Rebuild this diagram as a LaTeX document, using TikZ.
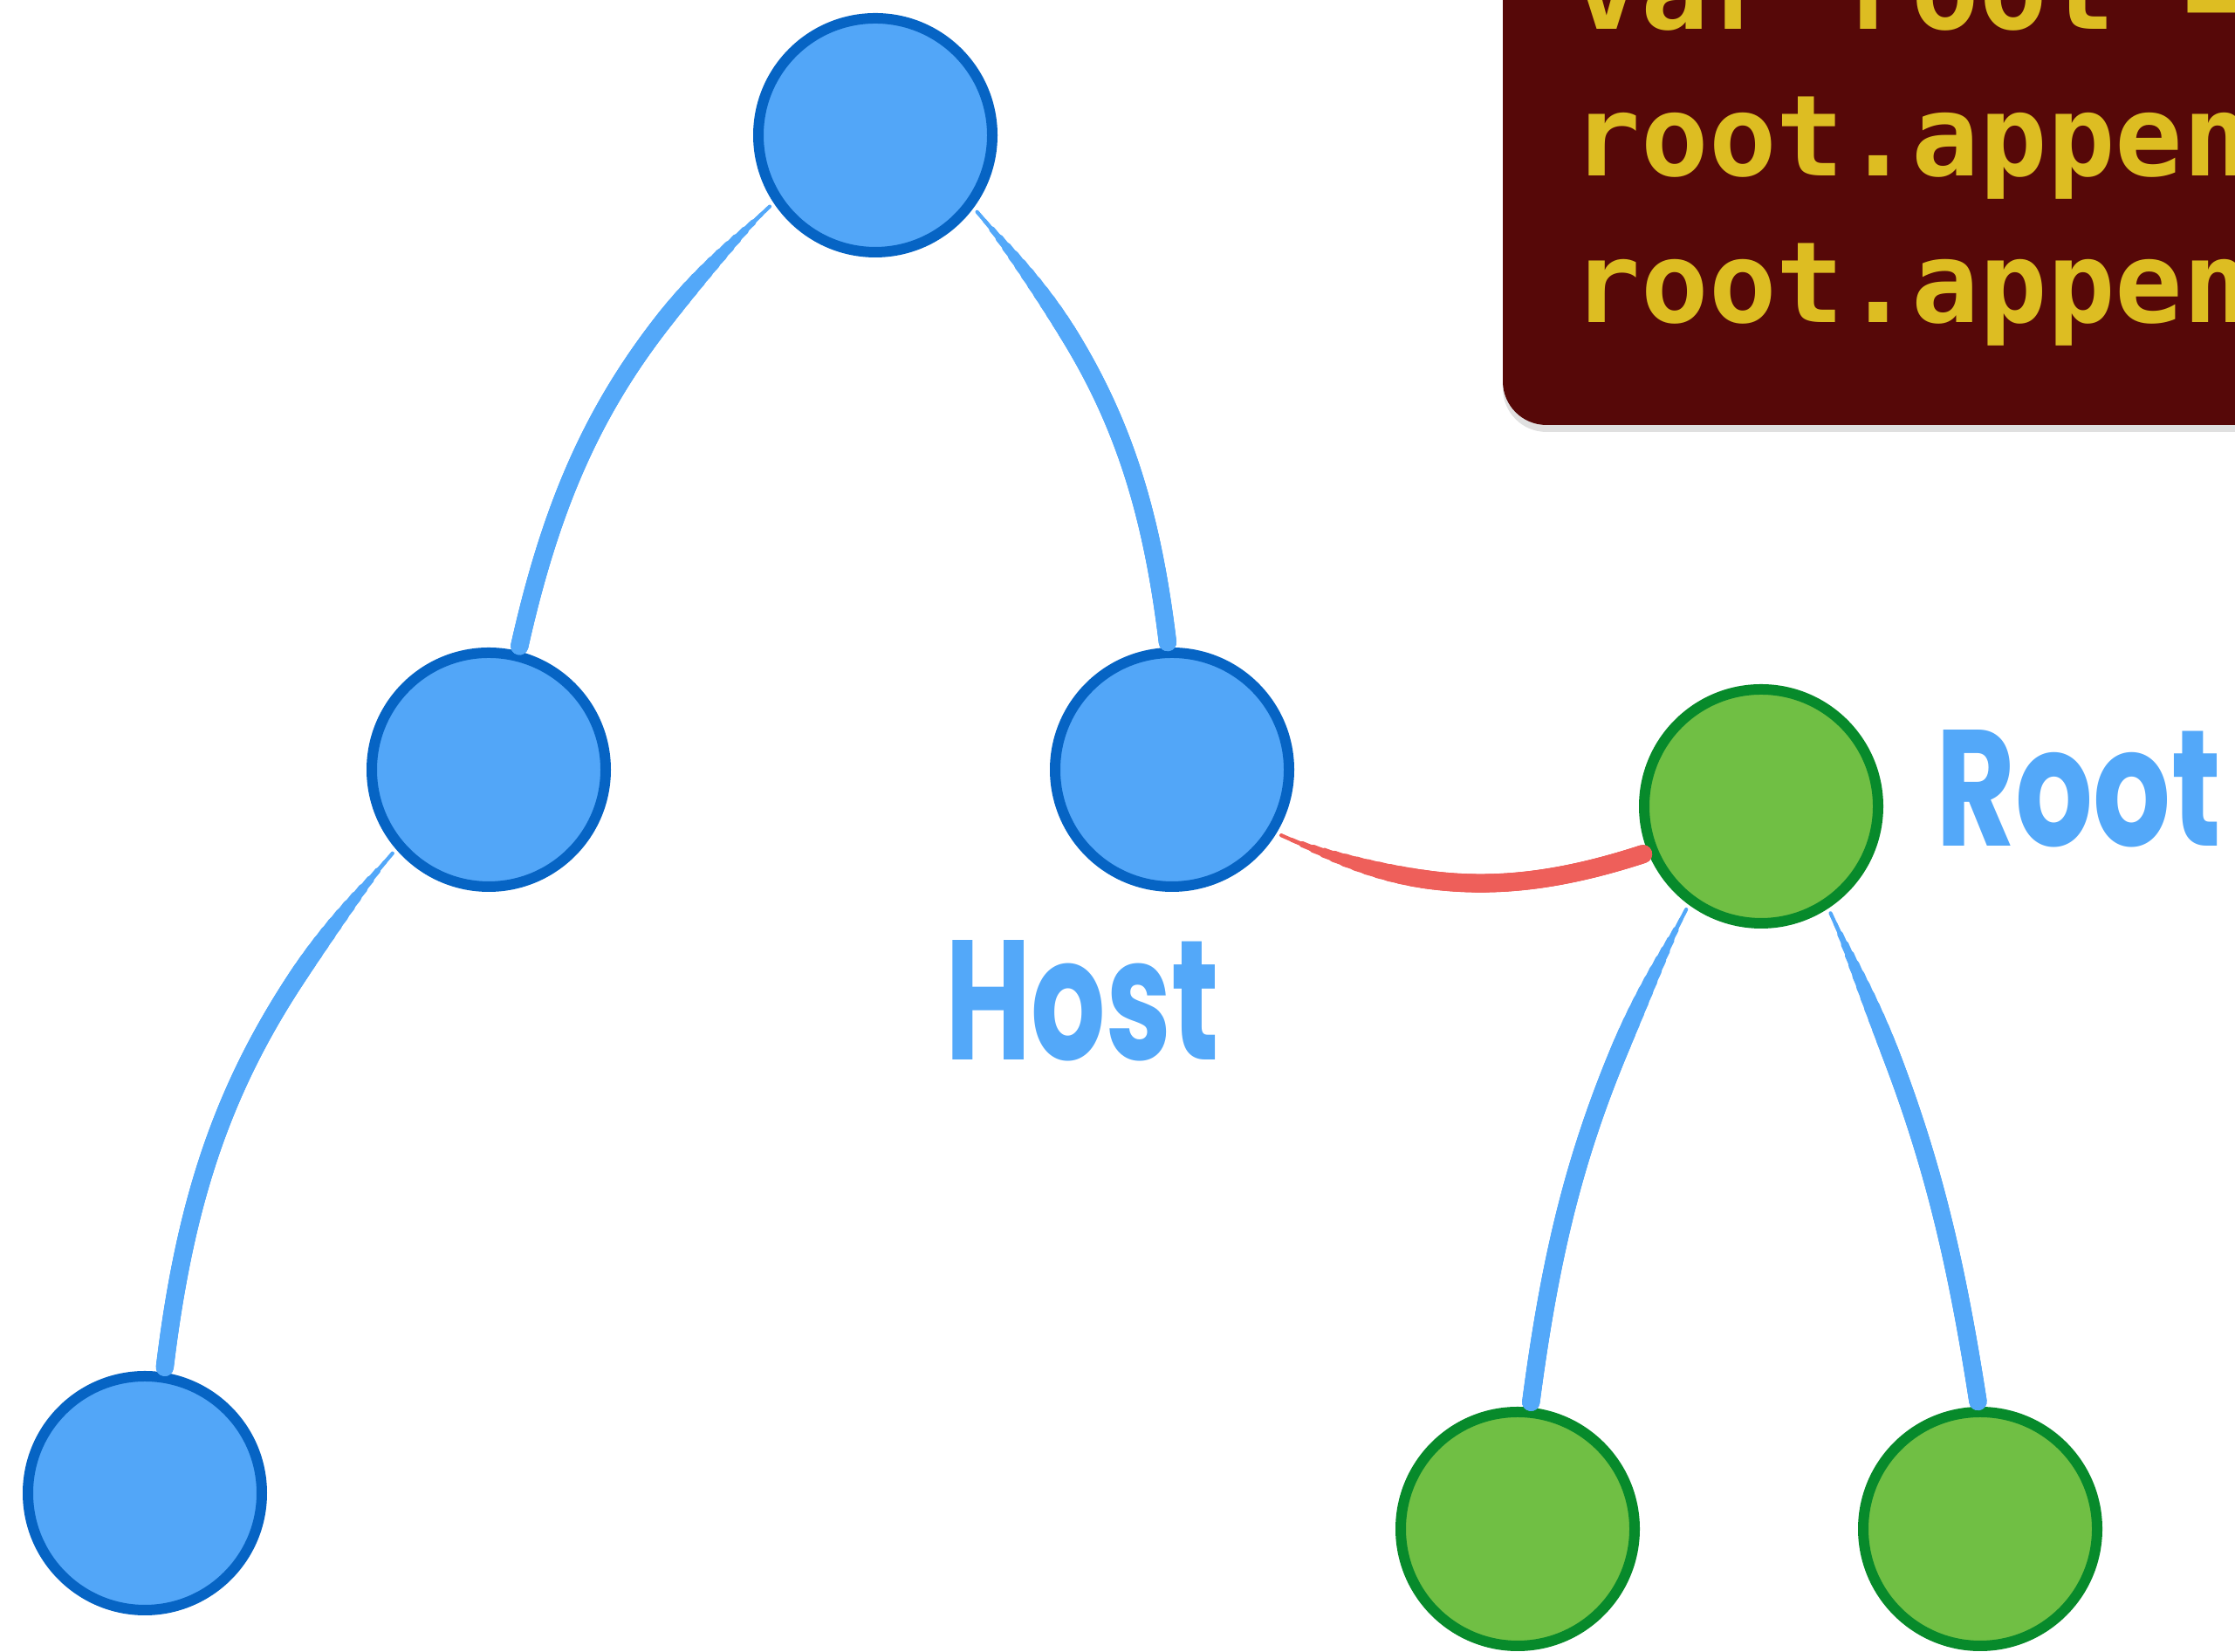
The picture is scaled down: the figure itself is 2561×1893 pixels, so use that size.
\documentclass[tikz,border=0pt]{standalone}
\usepackage{fontspec}
\usepackage{graphicx}
\usetikzlibrary{shadows}
\newfontfamily\codefont{DejaVu Sans Mono}
\newfontfamily\handfont{Poppins}
\definecolor{bluefill}{HTML}{52A6F8}
\definecolor{blueline}{HTML}{0664C4}
\definecolor{greenfill}{HTML}{70BF44}
\definecolor{greenline}{HTML}{078A2B}
\definecolor{edgeblue}{HTML}{53A8F9}
\definecolor{edgered}{HTML}{EE5F5A}
\definecolor{codebg}{HTML}{560808}
\definecolor{codefg}{HTML}{DDBD22}

\tikzset{
  treenode/.style={circle,minimum size=26.8mm,inner sep=0pt,outer sep=1.2mm,line width=1.2mm},
  bluenode/.style={treenode,draw=blueline,fill=bluefill},
  greennode/.style={treenode,draw=greenline,fill=greenfill},
  codeline/.style={anchor=base west,inner sep=0pt,text=codefg,
    font=\codefont\bfseries\fontsize{36.7pt}{44pt}\selectfont},
  handlabel/.style={anchor=base west,inner sep=0pt,text=edgeblue,font=\handfont\bfseries},
}

% brush stroke: thin at the first node, full width from about a third on
% #1 colour, #2 full width (pt), #3 from, #4 to, #5 bend
\newcommand\brushedge[5]{%
  \foreach \i in {1,...,14}{
    \pgfmathsetmacro\brushlw{max(1.2,#2*sin(90*\i/14))}
    \pgfmathsetmacro\brushphase{6000-52*(\i-1)/14}
    \draw[#1,line width=\brushlw pt,line cap=round,
      dash pattern=on 3000pt off 3000pt,dash phase=\brushphase pt] (#3) to[#5] (#4);
  }}

\begin{document}
\begin{tikzpicture}[x=0.1mm,y=0.1mm]
  \useasboundingbox (0,0) rectangle (2561,1893);
  \clip (0,0) rectangle (2561,1893);

  % code panel, cut by the page edge
  \fill[codebg,rounded corners=5mm,
    drop shadow={shadow xshift=0mm,shadow yshift=-0.8mm,opacity=0.2,fill=black!60}]
    (1722,1406) rectangle (2900,2200);
  \node[codeline] (code1) at (1802,1859) {var root =};
  \node[codeline] (code2) at (1802,1691) {root.appen};
  \node[codeline] (code3) at (1802,1523) {root.appen};

  % host tree
  \node[bluenode] (top) at (1003,1738) {};
  \node[bluenode] (ml) at (560,1011) {};
  \node[bluenode] (mr) at (1343,1011) {};
  \node[bluenode] (bl) at (166,182) {};

  % new subtree
  \node[greennode] (root) at (2018,969) {};
  \node[greennode] (gl) at (1739,141) {};
  \node[greennode] (gr) at (2269,141) {};

  \brushedge{edgeblue}{5.8}{top.214}{ml.76}{bend right=17}
  \brushedge{edgeblue}{5.8}{top.323}{mr.92}{bend left=17}
  \brushedge{edgeblue}{5.8}{ml.221}{bl.81}{bend right=17}
  \brushedge{edgeblue}{5.8}{root.234}{gl.84}{bend right=10}
  \brushedge{edgeblue}{5.8}{root.303}{gr.91}{bend left=8}
  \brushedge{edgered}{6.0}{mr.329}{root.202}{bend right=21}

  \node[handlabel] (hostlabel) at (1083,678) {\resizebox{31.3mm}{13.7mm}{Host}};
  \node[handlabel] (rootlabel) at (2218,923) {\resizebox{32.6mm}{13.3mm}{Root}};
\end{tikzpicture}
\end{document}
